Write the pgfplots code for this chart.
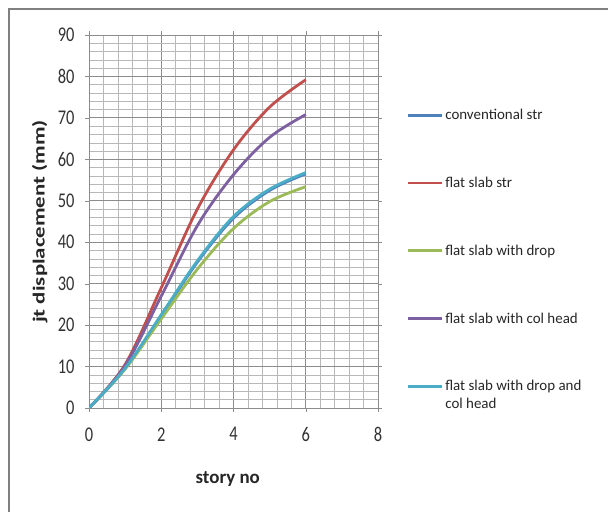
\documentclass[border=0pt]{standalone}
\usepackage{fontspec}
\setmainfont{Carlito}
\usepackage{pgfplots}
\pgfplotsset{compat=1.18}
\definecolor{cblue}{HTML}{4F81BD}
\definecolor{cred}{HTML}{C0504D}
\definecolor{cgreen}{HTML}{9BBB59}
\definecolor{cpurple}{HTML}{7D60A0}
\definecolor{ccyan}{HTML}{4BACC6}
\begin{document}
\begin{tikzpicture}
\useasboundingbox (0,0) rectangle (608bp,512bp);
\fill[white] (0,0) rectangle (608bp,512bp);
\draw[gray, line width=2bp] (9bp,0) -- (9bp,503bp) -- (608bp,503bp);
\begin{axis}[
  at={(89bp,104bp)}, anchor=south west,
  scale only axis, width=289bp, height=373bp,
  xmin=0, xmax=8, ymin=0, ymax=90,
  xtick={0,2,...,8}, ytick={0,10,...,90},
  minor x tick num=4, minor y tick num=4,
  grid=both,
  major grid style={black!45, line width=0.8bp},
  minor grid style={black!28, line width=0.5bp},
  axis line style={black!45},
  tick style={black!45},
  tick align=outside, major tick length=4bp, minor tick length=0pt,
  /pgf/number format/assume math mode=true,
  ticklabel style={font=\fontsize{15}{18}\selectfont, text=black!80},
  xticklabel={\scalebox{1.1}[1.4]{\pgfmathprintnumber{\tick}}},
  yticklabel={\scalebox{1.1}[1.4]{\pgfmathprintnumber{\tick}}},
  xticklabel style={yshift=-12bp},
  yticklabel style={xshift=-7bp},
  xlabel={\textbf{story no}},
  ylabel={\scalebox{1.35}[1]{\textbf{jt displacement (mm)}}},
  xlabel style={at={(axis description cs:0.48,-0.19)}, anchor=center, font=\fontsize{19}{22}\selectfont, text=black!85},
  ylabel style={at={(axis description cs:-0.17,0.5)}, anchor=center, font=\fontsize{17}{20}\selectfont, text=black!85},
  legend style={at={(axis description cs:1.098,0.807)}, anchor=north west, draw=none, fill=none, inner sep=0pt,
    font=\fontsize{15}{18}\selectfont, text=black!85, row sep=52bp,
    cells={anchor=west}},
  legend cell align=left,
  legend image code/.code={\draw[#1, line width=2.8bp] (0bp,0bp) -- (34bp,0bp);},
  myline/.style={line width=2.8bp, smooth, tension=0.55},
]
\addplot[cblue, myline] coordinates {(0,0) (1,9.5) (2,22.2) (3,35.2) (4,45.8) (5,52.5) (6,56.5)};
\addlegendentry{conventional str}
\addplot[cred, myline] coordinates {(0,0) (1,10.5) (2,29.0) (3,48.0) (4,62.3) (5,72.6) (6,79.2)};
\addlegendentry{flat slab str}
\addplot[cgreen, myline] coordinates {(0,0) (1,9.4) (2,21.5) (3,33.5) (4,43.3) (5,49.8) (6,53.4)};
\addlegendentry{flat slab with drop}
\addplot[cpurple, myline] coordinates {(0,0) (1,10.2) (2,27.0) (3,44.0) (4,56.3) (5,65.3) (6,70.8)};
\addlegendentry{flat slab with col head}
\addplot[ccyan, myline] coordinates {(0,0) (1,9.6) (2,22.5) (3,35.5) (4,46.2) (5,52.8) (6,56.8)};
\addlegendentry{\smash{\rlap{\raisebox{-18bp}{col head}}}flat slab with drop and}
\end{axis}
\end{tikzpicture}
\end{document}
